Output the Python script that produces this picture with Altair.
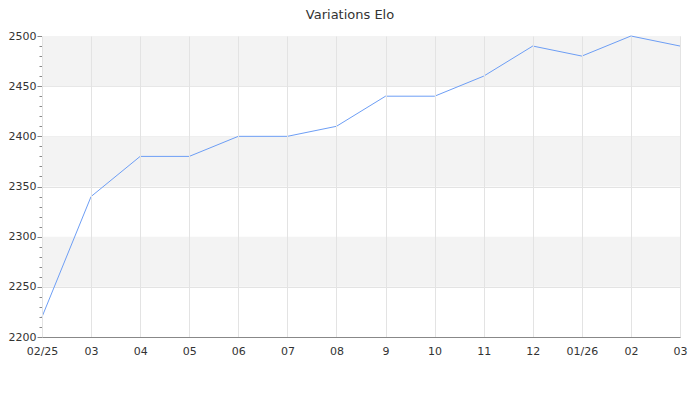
import altair as alt
import pandas as pd

months = ["02/25", "03", "04", "05", "06", "07", "08", "9", "10", "11", "12", "01/26", "02", "03 "]
elo = [2220, 2340, 2380, 2380, 2400, 2400, 2410, 2440, 2440, 2460, 2490, 2480, 2500, 2490]
band_from = [2250, 2350, 2450]
band_to = [2300, 2400, 2500]
y_ticks = list(range(2200, 2501, 10))

df = pd.DataFrame({"month": months, "elo": elo})
bands = pd.DataFrame({"y": band_from, "y2": band_to})

W, H = 638, 301

xscale = alt.Scale(type="point", padding=0, domain=months)
yscale = alt.Scale(domain=[2200, 2500], nice=False, zero=False)

yaxis = alt.Axis(values=y_ticks, labelOverlap=False, zindex=0,
                 labelExpr="datum.value % 50 === 0 ? datum.label : ''",
                 format="d",
                 tickSize={"condition": {"test": "datum.value % 50 === 0", "value": 5}, "value": 3},
                 gridOpacity={"condition": {"test": "datum.value % 50 === 0", "value": 1}, "value": 0},
                 gridColor="#e3e3e3", tickColor="#888888", domainColor="#888888",
                 labelColor="#333333", labelFont="DejaVu Sans", labelFontSize=11,
                 labelPadding=1)

band_layer = alt.Chart(bands).mark_rect(color="#f3f3f3").encode(
    y=alt.Y("y:Q", scale=yscale, axis=yaxis, title=None),
    y2="y2:Q",
    x=alt.value(0),
    x2=alt.value(W),
)

line = alt.Chart(df).mark_line(color="#6d9ef5", strokeWidth=1).encode(
    x=alt.X("month:N", scale=xscale, sort=months, title=None,
            axis=alt.Axis(labelAngle=0, ticks=False, grid=True, gridColor="#e3e3e3",
                          domainColor="#888888", labelColor="#333333", labelFont="DejaVu Sans",
                          labelFontSize=11, labelPadding=8, zindex=1,
                          labelExpr="trim(datum.label)")),
    y=alt.Y("elo:Q", scale=yscale, title=None, axis=yaxis),
)

chart = alt.layer(band_layer, line).properties(
    width=W, height=H,
    title=alt.TitleParams("Variations Elo", font="DejaVu Sans", fontSize=13, fontWeight="normal",
                          color="#333333", anchor="middle", dx=-11, offset=8),
    autosize=alt.AutoSizeParams(type="none"),
    padding={"left": 34, "top": 28, "right": 10, "bottom": 50},
).configure_view(stroke=None)

chart.save("out.html", embed_options={"renderer": "svg", "actions": False})
